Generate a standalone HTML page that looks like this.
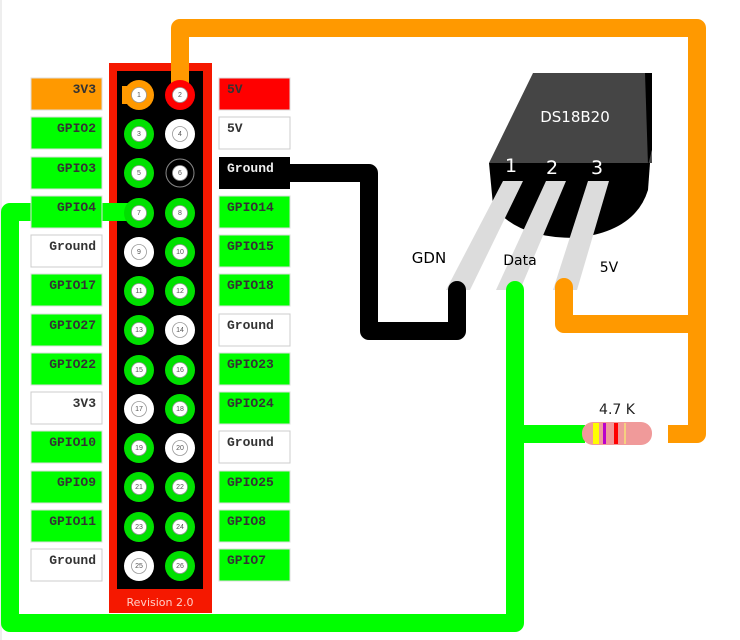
<!DOCTYPE html>
<html><head><meta charset="utf-8"><style>
html,body{margin:0;padding:0;background:#fff;}
svg{display:block}
.l{font-family:"Liberation Mono","Courier New",monospace;font-size:13px;font-weight:bold;}
.s{font-family:"DejaVu Sans","Liberation Sans",sans-serif;}
.n{font-family:"Liberation Sans",sans-serif;font-size:7px;fill:#555}
</style></head><body>
<svg width="740" height="640" viewBox="0 0 740 640" xmlns="http://www.w3.org/2000/svg">
<rect x="0" y="0" width="740" height="640" fill="#fff"/>
<line x1="1" y1="0" x2="1" y2="640" stroke="#ddd" stroke-width="1"/>

<!-- board -->
<rect x="109" y="63" width="103" height="550" fill="#f51800"/>
<rect x="117" y="71" width="86" height="518" fill="#000"/>
<text x="160" y="606" text-anchor="middle" class="s" font-size="11" fill="#ffd0c8">Revision 2.0</text>

<!-- sensor -->
<path d="M533,73 L650,73 L652,163 L489,163 Z" fill="#454545"/>
<path d="M645,73 L652,73 L652,150 L648,165 Z" fill="#000"/>
<path d="M489,163 L650,163 L648,190 Q635,232 575,238 Q515,238 493,205 Z" fill="#000"/>
<text x="575" y="122" text-anchor="middle" class="s" font-size="15" fill="#fff">DS18B20</text>
<text x="511" y="172" text-anchor="middle" class="s" font-size="19" fill="#fff">1</text>
<text x="552" y="174" text-anchor="middle" class="s" font-size="19" fill="#fff">2</text>
<text x="597" y="174" text-anchor="middle" class="s" font-size="19" fill="#fff">3</text>
<g fill="#dcdcdc">
<path d="M503,181 L523,181 L470,290 L446,290 Z"/>
<path d="M546,181 L566,181 L520,290 L496,290 Z"/>
<path d="M588,181 L609,181 L577,290 L553,290 Z"/>
</g>
<text x="429" y="263" text-anchor="middle" class="s" font-size="15" fill="#000">GDN</text>
<text x="520" y="265" text-anchor="middle" class="s" font-size="14" fill="#000">Data</text>
<text x="609" y="272" text-anchor="middle" class="s" font-size="14" fill="#000">5V</text>

<!-- wires -->
<g fill="none" stroke-width="18" stroke-linejoin="round">
<polyline points="180,95 180,28 697,28 697,434 668,434" stroke="#ff9900"/>
<polyline points="697,324 564,324 564,287" stroke="#ff9900" stroke-linecap="round"/>
<polyline points="280,173 369,173 369,331 457,331 457,290" stroke="#000" stroke-linecap="round"/>
<polyline points="130,212 10,212 10,623 515,623 515,290" stroke="#00ff00" stroke-linecap="round"/>
<polyline points="515,434 585,434" stroke="#00ff00"/>
</g>

<g id="labels">
<rect x="31" y="78" width="71" height="32" fill="#ff9900" stroke="#ddd"/><text x="96" y="93" text-anchor="end" class="l" fill="#333">3V3</text>
<rect x="31" y="117" width="71" height="32" fill="#00ff00" stroke="#ddd"/><text x="96" y="132" text-anchor="end" class="l" fill="#333">GPIO2</text>
<rect x="31" y="157" width="71" height="32" fill="#00ff00" stroke="#ddd"/><text x="96" y="172" text-anchor="end" class="l" fill="#333">GPIO3</text>
<rect x="31" y="196" width="71" height="32" fill="#00ff00" stroke="#ddd"/><text x="96" y="211" text-anchor="end" class="l" fill="#333">GPIO4</text>
<rect x="31" y="235" width="71" height="32" fill="#fff" stroke="#ccc"/><text x="96" y="250" text-anchor="end" class="l" fill="#333">Ground</text>
<rect x="31" y="274" width="71" height="32" fill="#00ff00" stroke="#ddd"/><text x="96" y="289" text-anchor="end" class="l" fill="#333">GPIO17</text>
<rect x="31" y="314" width="71" height="32" fill="#00ff00" stroke="#ddd"/><text x="96" y="329" text-anchor="end" class="l" fill="#333">GPIO27</text>
<rect x="31" y="353" width="71" height="32" fill="#00ff00" stroke="#ddd"/><text x="96" y="368" text-anchor="end" class="l" fill="#333">GPIO22</text>
<rect x="31" y="392" width="71" height="32" fill="#fff" stroke="#ccc"/><text x="96" y="407" text-anchor="end" class="l" fill="#333">3V3</text>
<rect x="31" y="431" width="71" height="32" fill="#00ff00" stroke="#ddd"/><text x="96" y="446" text-anchor="end" class="l" fill="#333">GPIO10</text>
<rect x="31" y="471" width="71" height="32" fill="#00ff00" stroke="#ddd"/><text x="96" y="486" text-anchor="end" class="l" fill="#333">GPIO9</text>
<rect x="31" y="510" width="71" height="32" fill="#00ff00" stroke="#ddd"/><text x="96" y="525" text-anchor="end" class="l" fill="#333">GPIO11</text>
<rect x="31" y="549" width="71" height="32" fill="#fff" stroke="#ccc"/><text x="96" y="564" text-anchor="end" class="l" fill="#333">Ground</text>
<rect x="219" y="78" width="71" height="32" fill="#ff0000" stroke="#ddd"/><text x="227" y="93" class="l" fill="#333">5V</text>
<rect x="219" y="117" width="71" height="32" fill="#fff" stroke="#ccc"/><text x="227" y="132" class="l" fill="#333">5V</text>
<rect x="219" y="157" width="71" height="32" fill="#000"/><text x="227" y="172" class="l" fill="#eee">Ground</text>
<rect x="219" y="196" width="71" height="32" fill="#00ff00" stroke="#ddd"/><text x="227" y="211" class="l" fill="#333">GPIO14</text>
<rect x="219" y="235" width="71" height="32" fill="#00ff00" stroke="#ddd"/><text x="227" y="250" class="l" fill="#333">GPIO15</text>
<rect x="219" y="274" width="71" height="32" fill="#00ff00" stroke="#ddd"/><text x="227" y="289" class="l" fill="#333">GPIO18</text>
<rect x="219" y="314" width="71" height="32" fill="#fff" stroke="#ccc"/><text x="227" y="329" class="l" fill="#333">Ground</text>
<rect x="219" y="353" width="71" height="32" fill="#00ff00" stroke="#ddd"/><text x="227" y="368" class="l" fill="#333">GPIO23</text>
<rect x="219" y="392" width="71" height="32" fill="#00ff00" stroke="#ddd"/><text x="227" y="407" class="l" fill="#333">GPIO24</text>
<rect x="219" y="431" width="71" height="32" fill="#fff" stroke="#ccc"/><text x="227" y="446" class="l" fill="#333">Ground</text>
<rect x="219" y="471" width="71" height="32" fill="#00ff00" stroke="#ddd"/><text x="227" y="486" class="l" fill="#333">GPIO25</text>
<rect x="219" y="510" width="71" height="32" fill="#00ff00" stroke="#ddd"/><text x="227" y="525" class="l" fill="#333">GPIO8</text>
<rect x="219" y="549" width="71" height="32" fill="#00ff00" stroke="#ddd"/><text x="227" y="564" class="l" fill="#333">GPIO7</text>
</g>

<!-- pins -->
<g stroke="none">
<rect x="122" y="86" width="8" height="18" fill="#ff9900"/>
<circle cx="139" cy="95" r="15" fill="#ff9900"/><circle cx="180" cy="95" r="15" fill="#ff0000"/>
<circle cx="139" cy="134" r="15" fill="#00e000"/><circle cx="180" cy="134" r="15" fill="#fff"/>
<circle cx="139" cy="173" r="15" fill="#00e000"/><circle cx="180" cy="173" r="14" fill="#000" stroke="#888" stroke-width="1"/>
<circle cx="139" cy="213" r="15" fill="#00e000"/><circle cx="180" cy="213" r="15" fill="#00e000"/>
<circle cx="139" cy="252" r="15" fill="#fff"/><circle cx="180" cy="252" r="15" fill="#00e000"/>
<circle cx="139" cy="291" r="15" fill="#00e000"/><circle cx="180" cy="291" r="15" fill="#00e000"/>
<circle cx="139" cy="330" r="15" fill="#00e000"/><circle cx="180" cy="330" r="15" fill="#fff"/>
<circle cx="139" cy="370" r="15" fill="#00e000"/><circle cx="180" cy="370" r="15" fill="#00e000"/>
<circle cx="139" cy="409" r="15" fill="#fff"/><circle cx="180" cy="409" r="15" fill="#00e000"/>
<circle cx="139" cy="448" r="15" fill="#00e000"/><circle cx="180" cy="448" r="15" fill="#fff"/>
<circle cx="139" cy="487" r="15" fill="#00e000"/><circle cx="180" cy="487" r="15" fill="#00e000"/>
<circle cx="139" cy="527" r="15" fill="#00e000"/><circle cx="180" cy="527" r="15" fill="#00e000"/>
<circle cx="139" cy="566" r="15" fill="#fff"/><circle cx="180" cy="566" r="15" fill="#00e000"/>
</g>
<g fill="#fff" stroke="#999" stroke-width="0.8">
<circle cx="139" cy="95" r="7.5"/><circle cx="180" cy="95" r="7.5"/>
<circle cx="139" cy="134" r="7.5"/><circle cx="180" cy="134" r="7.5"/>
<circle cx="139" cy="173" r="7.5"/><circle cx="180" cy="173" r="7.5"/>
<circle cx="139" cy="213" r="7.5"/><circle cx="180" cy="213" r="7.5"/>
<circle cx="139" cy="252" r="7.5"/><circle cx="180" cy="252" r="7.5"/>
<circle cx="139" cy="291" r="7.5"/><circle cx="180" cy="291" r="7.5"/>
<circle cx="139" cy="330" r="7.5"/><circle cx="180" cy="330" r="7.5"/>
<circle cx="139" cy="370" r="7.5"/><circle cx="180" cy="370" r="7.5"/>
<circle cx="139" cy="409" r="7.5"/><circle cx="180" cy="409" r="7.5"/>
<circle cx="139" cy="448" r="7.5"/><circle cx="180" cy="448" r="7.5"/>
<circle cx="139" cy="487" r="7.5"/><circle cx="180" cy="487" r="7.5"/>
<circle cx="139" cy="527" r="7.5"/><circle cx="180" cy="527" r="7.5"/>
<circle cx="139" cy="566" r="7.5"/><circle cx="180" cy="566" r="7.5"/>
</g>
<g class="n" text-anchor="middle">
<text x="139" y="97">1</text><text x="180" y="97">2</text>
<text x="139" y="136">3</text><text x="180" y="136">4</text>
<text x="139" y="175">5</text><text x="180" y="175">6</text>
<text x="139" y="215">7</text><text x="180" y="215">8</text>
<text x="139" y="254">9</text><text x="180" y="254">10</text>
<text x="139" y="293">11</text><text x="180" y="293">12</text>
<text x="139" y="332">13</text><text x="180" y="332">14</text>
<text x="139" y="372">15</text><text x="180" y="372">16</text>
<text x="139" y="411">17</text><text x="180" y="411">18</text>
<text x="139" y="450">19</text><text x="180" y="450">20</text>
<text x="139" y="489">21</text><text x="180" y="489">22</text>
<text x="139" y="529">23</text><text x="180" y="529">24</text>
<text x="139" y="568">25</text><text x="180" y="568">26</text>
</g>

<!-- resistor -->
<rect x="582" y="422" width="70" height="23" rx="11" fill="#f09a9a"/>
<rect x="593" y="423" width="6" height="21" fill="#ffff00"/>
<rect x="603" y="423" width="3" height="21" fill="#bb00cc"/>
<rect x="614" y="423" width="4" height="21" fill="#ff0000"/>
<rect x="624" y="423" width="2" height="21" fill="#f5d080"/>
<text x="617" y="414" text-anchor="middle" class="s" font-size="14" fill="#222">4.7 K</text>
</svg>
</body></html>
